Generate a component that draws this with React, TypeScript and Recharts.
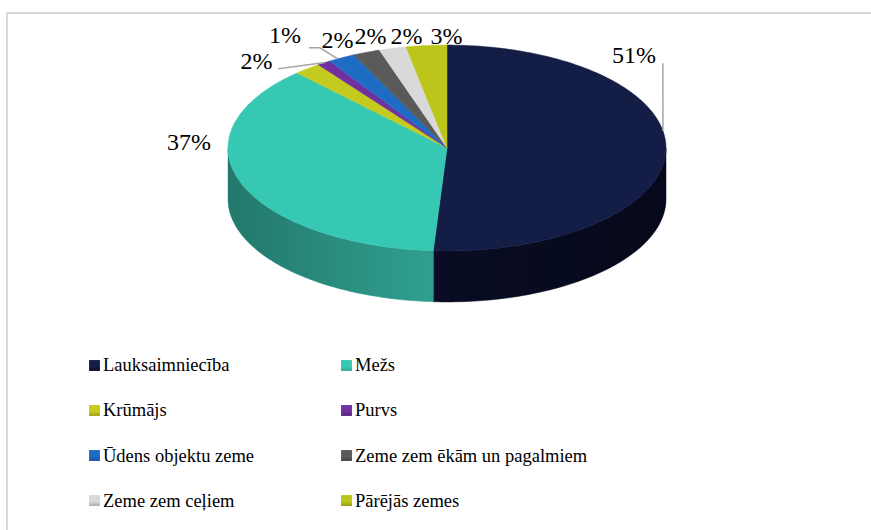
import React from 'react';
import { PieChart, Pie, Cell, Legend } from 'recharts';

const CATEGORIES = [
  'Lauksaimniecība',
  'Mežs',
  'Krūmājs',
  'Purvs',
  'Ūdens objektu zeme',
  'Zeme zem ēkām un pagalmiem',
  'Zeme zem ceļiem',
  'Pārējās zemes',
];
const SHARES = [51, 37, 2, 1, 2, 2, 2, 3];
const TOP_COLORS = ['#141d45', '#37c8b4', '#c4cb1e', '#7030a0', '#1f6cc4', '#5a5a5a', '#d9d9d9', '#bcc61a'];
const SIDE_COLORS = ['#090d26', '#31a595', '#9aa016', '#52237a', '#17519a', '#404040', '#ababab', '#939b14'];

// layout (not data)
const PIE_CX = 447;
const PIE_CY = 148;
const PIE_R = 219;
const TILT = 0.47;
const DEPTH = 51;
const FONT = 'Liberation Serif, DejaVu Serif, serif';
const LABEL_OFFSETS: [number, number][] = [
  [-32, -96], [-52, -41], [-51, -8], [-39, -28], [-4, -18], [4, -16], [14, -12], [20, -10],
];
type Leader = { from: [number, number]; via?: [number, number]; shift: number } | null;
const LEADERS: Leader[] = [
  { from: [29, 8], shift: 11.4 },
  null,
  { from: [22, 8], shift: -5.7 },
  { from: [24, 13], via: [35, 13], shift: -4.3 },
  null, null, null, null,
];

const data = CATEGORIES.map((name, i) => ({ name, value: SHARES[i], fill: TOP_COLORS[i] }));

const RAD = Math.PI / 180;
function pt(cx: number, cy: number, r: number, a: number, dy = 0): [number, number] {
  return [cx + r * Math.cos(-a * RAD), cy + TILT * r * Math.sin(-a * RAD) + dy];
}
function arcPts(cx: number, cy: number, r: number, a0: number, a1: number, dy = 0) {
  const n = Math.max(2, Math.ceil(Math.abs(a1 - a0)) + 1);
  const out: [number, number][] = [];
  for (let i = 0; i < n; i++) {
    const a = a0 + ((a1 - a0) * i) / (n - 1);
    out.push(pt(cx, cy, r, a, dy));
  }
  return out;
}
const toPath = (pts: [number, number][]) =>
  'M' + pts.map((p) => `${p[0].toFixed(2)},${p[1].toFixed(2)}`).join('L') + 'Z';

function Slice3D(props: any) {
  const { cx, cy, outerRadius, startAngle, endAngle } = props;
  const name = props.name ?? props.payload?.name;
  const idx = Math.max(0, CATEGORIES.indexOf(name));
  const fill = TOP_COLORS[idx];
  const side = SIDE_COLORS[idx];
  const hiA = Math.max(startAngle, endAngle);
  const loA = Math.min(startAngle, endAngle);
  const sHi = Math.min(hiA, 0);
  const sLo = Math.max(loA, -180);
  let sidePath: string | null = null;
  if (sHi > sLo) {
    const pts = [...arcPts(cx, cy, outerRadius, sHi, sLo), ...arcPts(cx, cy, outerRadius, sLo, sHi, DEPTH)];
    sidePath = toPath(pts);
  }
  const topPts: [number, number][] = [[cx, cy], ...arcPts(cx, cy, outerRadius, startAngle, endAngle)];
  return (
    <g>
      {sidePath && <path d={sidePath} fill={side} stroke={side} strokeWidth={0.5} />}
      {sidePath && <path d={sidePath} fill="url(#sideShade)" stroke="none" />}
      <path d={toPath(topPts)} fill={fill} stroke={fill} strokeWidth={0.5} />
    </g>
  );
}

function renderLabel(p: any) {
  const idx = Math.max(0, CATEGORIES.indexOf(p.name ?? p.payload?.name));
  const [ex, ey] = pt(p.cx, p.cy, p.outerRadius, p.midAngle);
  const [dx, dy] = LABEL_OFFSETS[idx];
  const tx = ex + dx;
  const ty = ey + dy;
  const ld = LEADERS[idx];
  let line: string | null = null;
  if (ld) {
    const end = pt(p.cx, p.cy, p.outerRadius, p.midAngle + ld.shift);
    const pts: [number, number][] = [[tx + ld.from[0], ty + ld.from[1]]];
    if (ld.via) pts.push([tx + ld.via[0], ty + ld.via[1]]);
    pts.push(end);
    line = pts.map((q) => q.join(',')).join(' ');
  }
  return (
    <g key={`lbl-${idx}`}>
      {line && <polyline points={line} fill="none" stroke="#a6a6a6" strokeWidth={1.5} />}
      <text x={tx} y={ty + 8} textAnchor="middle" style={{ fontFamily: FONT }} fontSize={24} fill="#000">
        {`${SHARES[idx]}%`}
      </text>
    </g>
  );
}

function renderLegend(props: any) {
  const items = [...(props.payload || [])].sort(
    (a: any, b: any) => CATEGORIES.indexOf(a.value) - CATEGORIES.indexOf(b.value)
  );
  return (
    <div style={{ position: 'relative', width: 600, height: 180 }}>
      {items.map((it: any, i: number) => {
        const idx = CATEGORIES.indexOf(it.value);
        const color = idx >= 0 ? TOP_COLORS[idx] : it.color;
        const col = i % 2;
        const row = Math.floor(i / 2);
        return (
          <div
            key={`leg-${i}`}
            style={{
              position: 'absolute',
              left: col * 252,
              top: row * 45.3,
              height: 26,
              display: 'flex',
              alignItems: 'center',
              whiteSpace: 'nowrap',
            }}
          >
            <span
              style={{
                display: 'inline-block',
                width: 11,
                height: 11,
                background: `linear-gradient(180deg, ${color} 0%, ${color} 60%, ${SIDE_COLORS[idx] ?? color} 100%)`,
                boxShadow: 'inset 0 0 1px rgba(255,255,255,0.6)',
              }}
            />
            <span style={{ marginLeft: 3, fontFamily: FONT, fontSize: 18.5, color: '#000', lineHeight: '26px' }}>
              {it.value}
            </span>
          </div>
        );
      })}
    </div>
  );
}

export default function App() {
  return (
    <div style={{ position: 'absolute', left: 0, top: 0, width: 871, height: 530, background: '#fff' }}>
      <div
        style={{
          position: 'absolute',
          left: 6,
          top: 12,
          width: 865,
          height: 518,
          borderTop: '2px solid #d9d9d9',
          borderLeft: '2px solid #d9d9d9',
          boxSizing: 'border-box',
        }}
      />
      <div style={{ position: 'absolute', left: 0, top: 0 }}>
        <PieChart width={871} height={530} margin={{ top: 0, right: 0, bottom: 0, left: 0 }}>
          <defs>
            <linearGradient id="sideShade" gradientUnits="userSpaceOnUse" x1={228} y1={0} x2={666} y2={0}>
              <stop offset="0%" stopColor="#000" stopOpacity={0.28} />
              <stop offset="45%" stopColor="#000" stopOpacity={0.04} />
              <stop offset="100%" stopColor="#000" stopOpacity={0.3} />
            </linearGradient>
          </defs>
          <Pie
            data={data}
            dataKey="value"
            nameKey="name"
            cx={PIE_CX}
            cy={PIE_CY}
            outerRadius={PIE_R}
            startAngle={90}
            endAngle={-270}
            stroke="none"
            isAnimationActive={false}
            shape={Slice3D}
            label={renderLabel}
            labelLine={false}
          >
            {data.map((d, i) => (
              <Cell key={`c-${i}`} fill={TOP_COLORS[i]} />
            ))}
          </Pie>
          <Legend
            content={renderLegend}
            itemSorter={null as any}
            wrapperStyle={{ position: 'absolute', left: 89, top: 352, width: 600, height: 180 }}
          />
        </PieChart>
      </div>
    </div>
  );
}
